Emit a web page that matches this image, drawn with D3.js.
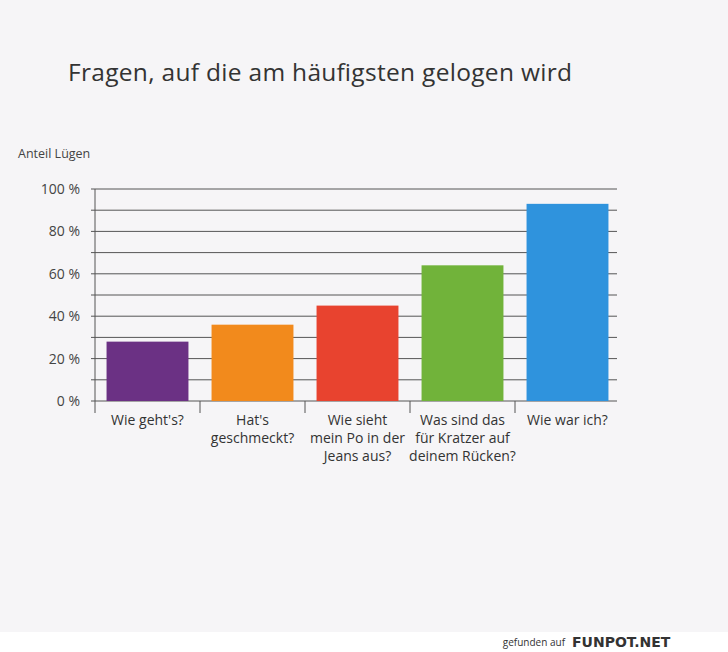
<!DOCTYPE html>
<html><head><meta charset="utf-8">
<script src="https://cdn.jsdelivr.net/npm/d3@7"></script>
<style>body{margin:0;background:#f6f5f7;} svg{display:block}</style>
</head><body>
<script>
var categories = [["Wie geht's?"], ["Hat's", "geschmeckt?"], ["Wie sieht", "mein Po in der", "Jeans aus?"], ["Was sind das", "für Kratzer auf", "deinem Rücken?"], ["Wie war ich?"]];
var values = [28, 36, 45, 64, 93];
var colors = ["#6b3184", "#f28a1c", "#e8432f", "#71b33a", "#2f93dd"];
var tickValues = [0, 20, 40, 60, 80, 100];

var width = 728, height = 652;
var svg = d3.select("body").append("svg").attr("width", width).attr("height", height);
var font = "'Open Sans', sans-serif";

var x = d3.scaleBand().domain(d3.range(categories.length)).range([95, 620]).paddingInner(0.22).paddingOuter(0.11);
var y = d3.scaleLinear().domain([0, 100]).range([401, 189]);

svg.append("text").attr("x", 68).attr("y", 81).attr("font-family", font).attr("font-size", 24.5)
  .attr("textLength", 504).attr("fill", "#333").text("Fragen, auf die am häufigsten gelogen wird");
svg.append("text").attr("x", 18).attr("y", 158).attr("font-family", font).attr("font-size", 12.5)
  .attr("fill", "#444").text("Anteil Lügen");

// gridlines every 10 %
svg.append("g").selectAll("line").data(d3.range(0, 101, 10)).enter().append("line")
  .attr("x1", 91).attr("x2", 617).attr("y1", d => y(d)).attr("y2", d => y(d))
  .attr("stroke", "#555").attr("stroke-width", 1);
svg.append("line").attr("x1", 95).attr("x2", 95).attr("y1", 189).attr("y2", 413).attr("stroke", "#555");

svg.append("g").selectAll("text").data(tickValues).enter().append("text")
  .attr("x", 80).attr("y", d => y(d) + 5).attr("text-anchor", "end")
  .attr("font-family", font).attr("font-size", 14).attr("fill", "#444").text(d => d + " %");

svg.append("g").selectAll("rect").data(values).enter().append("rect")
  .attr("x", (d, i) => x(i)).attr("width", x.bandwidth())
  .attr("y", d => y(d)).attr("height", d => y(0) - y(d))
  .attr("fill", (d, i) => colors[i]);

// category separators
svg.append("g").selectAll("line").data(d3.range(1, categories.length)).enter().append("line")
  .attr("x1", d => 95 + d * (525 / 5)).attr("x2", d => 95 + d * (525 / 5))
  .attr("y1", 401).attr("y2", 413).attr("stroke", "#555");

var lab = svg.append("g").selectAll("text").data(categories).enter().append("text")
  .attr("text-anchor", "middle").attr("font-family", font).attr("font-size", 14).attr("fill", "#333")
  .attr("x", (d, i) => x(i) + x.bandwidth() / 2).attr("y", 425);
lab.selectAll("tspan").data(d => d).enter().append("tspan")
  .attr("x", function () { return d3.select(this.parentNode).attr("x"); })
  .attr("dy", (d, i) => i === 0 ? 0 : 18).text(d => d);

// footer strip
svg.append("rect").attr("x", 0).attr("y", 632).attr("width", width).attr("height", 20).attr("fill", "#fff");
svg.append("text").attr("x", 565).attr("y", 646).attr("text-anchor", "end").attr("font-family", font)
  .attr("font-size", 10).attr("fill", "#333").text("gefunden auf");
svg.append("text").attr("x", 572).attr("y", 647).attr("font-family", "'DejaVu Sans', sans-serif").attr("font-weight", "bold")
  .attr("font-size", 14).attr("fill", "#333").text("FUNPOT.NET");
</script>
</body></html>
